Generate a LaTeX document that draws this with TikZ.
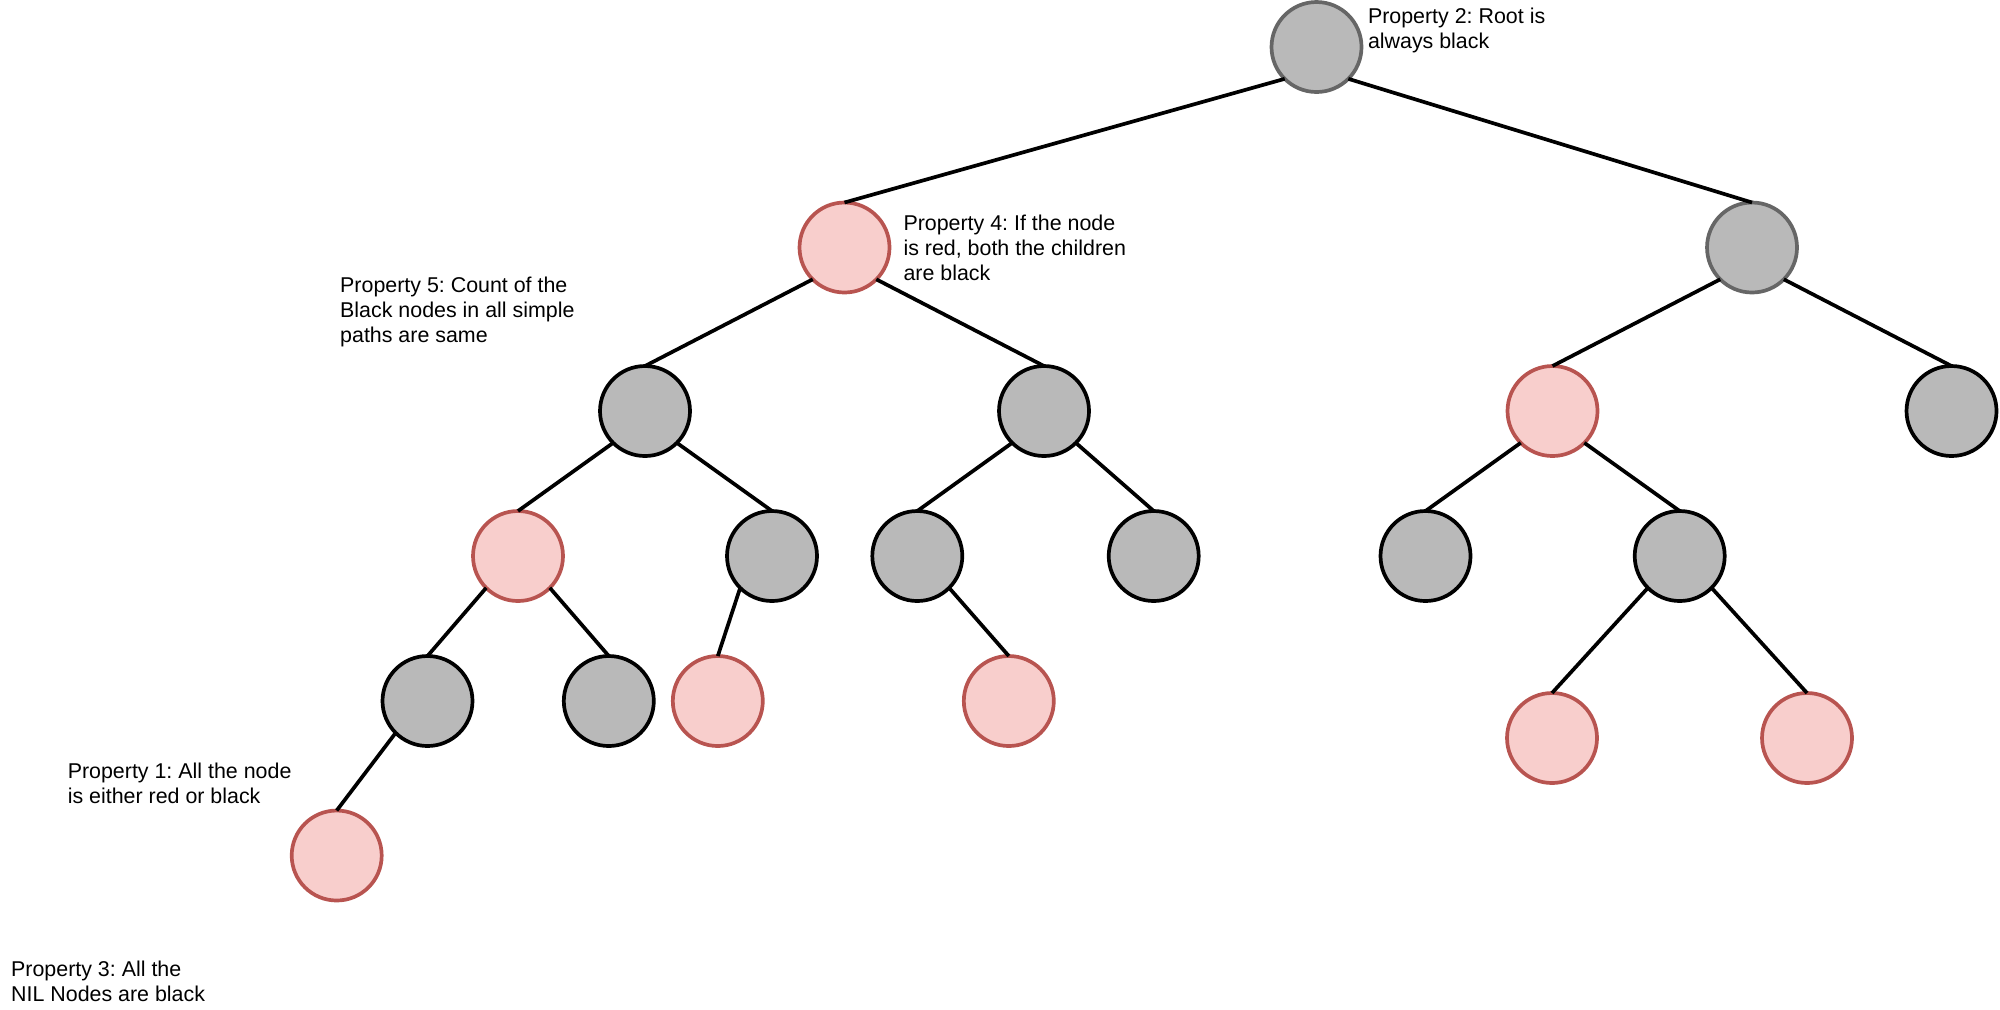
\documentclass[tikz,border=0pt]{standalone}
\usepackage{fontspec}
\setmainfont{Liberation Sans}
\usepackage{tikz}
\frenchspacing

\definecolor{nodegray}{HTML}{B9B9B9}
\definecolor{rootline}{HTML}{666666}
\definecolor{redfill}{HTML}{F8CECC}
\definecolor{redline}{HTML}{B85450}

\begin{document}
\begin{tikzpicture}[x=0.5pt,y=-0.5pt,inner sep=0pt,outer sep=0pt,
    rbnode/.style={circle,minimum size=45pt,line width=1.85pt},
    blacknode/.style={rbnode,draw=black,fill=nodegray},
    topnode/.style={rbnode,draw=rootline,fill=nodegray},
    rednode/.style={rbnode,draw=redline,fill=redfill},
    treeline/.style={line width=1.85pt},
    note/.style={anchor=base west,align=left,font=\fontsize{10.7}{12.5}\selectfont}]

      % 画像全体をバウンディングボックスとする
      \useasboundingbox (0,0) rectangle (2000,1009);

      % 木のノード
      \node[topnode] (root) at (1316.5,47) {};
      \node[rednode] (l) at (844.5,247.5) {};
      \node[topnode] (r) at (1752,247.5) {};

      \node[blacknode] (ll) at (645,411) {};
      \node[blacknode] (lr) at (1044,411) {};
      \node[rednode] (rl) at (1552.5,411) {};
      \node[blacknode] (rr) at (1951.5,411) {};

      \node[rednode] (lll) at (518,556) {};
      \node[blacknode] (llr) at (772,556) {};
      \node[blacknode] (lrl) at (917.3,556) {};
      \node[blacknode] (lrr) at (1153.7,556) {};
      \node[blacknode] (rll) at (1425.5,556) {};
      \node[blacknode] (rlr) at (1679.7,556) {};

      \node[blacknode] (llll) at (427.5,701) {};
      \node[blacknode] (lllr) at (608.8,701) {};
      \node[rednode] (llrl) at (717.8,701) {};
      \node[rednode] (lrlr) at (1008.8,701) {};
      \node[rednode] (rlrl) at (1552,738) {};
      \node[rednode] (rlrr) at (1807,738) {};

      \node[rednode] (lllll) at (336.7,855.5) {};

      % 枝
      \draw[treeline] (root.south west) -- (l.north);
      \draw[treeline] (root.south east) -- (r.north);
      \draw[treeline] (l.south west) -- (ll.north);
      \draw[treeline] (l.south east) -- (lr.north);
      \draw[treeline] (r.south west) -- (rl.north);
      \draw[treeline] (r.south east) -- (rr.north);
      \draw[treeline] (ll.south west) -- (lll.north);
      \draw[treeline] (ll.south east) -- (llr.north);
      \draw[treeline] (lr.south west) -- (lrl.north);
      \draw[treeline] (lr.south east) -- (lrr.north);
      \draw[treeline] (rl.south west) -- (rll.north);
      \draw[treeline] (rl.south east) -- (rlr.north);
      \draw[treeline] (lll.south west) -- (llll.north);
      \draw[treeline] (lll.south east) -- (lllr.north);
      \draw[treeline] (llr.south west) -- (llrl.north);
      \draw[treeline] (lrl.south east) -- (lrlr.north);
      \draw[treeline] (rlr.south west) -- (rlrl.north);
      \draw[treeline] (rlr.south east) -- (rlrr.north);
      \draw[treeline] (llll.south west) -- (lllll.north);

      % 性質の説明（最終行のベースラインで配置）
      \node[note] (prop2) at (1368,48.3) {Property 2: Root is\\always black};
      \node[note] (prop4) at (903.5,280) {Property 4: If the node\\is red, both the children\\are black};
      \node[note] (prop5) at (340.2,342.3) {Property 5: Count of the\\Black nodes in all simple\\paths are same};
      \node[note] (prop1) at (67.8,803.3) {Property 1: All the node\\is either red or black};
      \node[note] (prop3) at (11.2,1001.7) {Property 3: All the\\NIL Nodes are black};
    \end{tikzpicture}
\end{document}
